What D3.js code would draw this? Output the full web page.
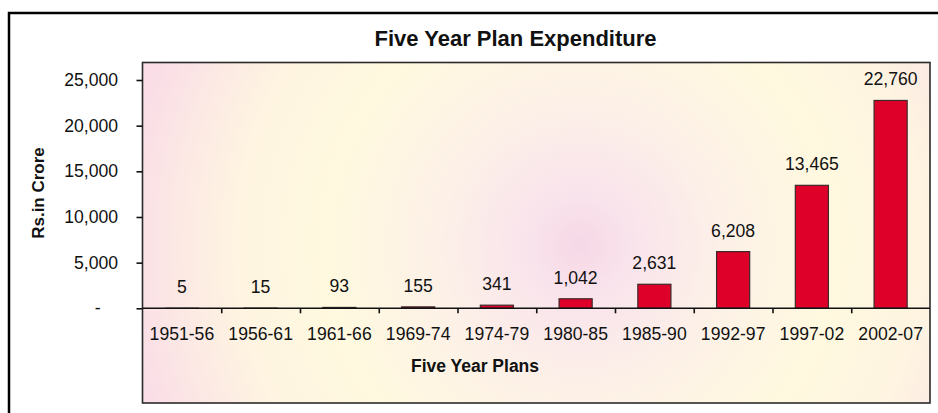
<!DOCTYPE html>
<html>
<head>
<meta charset="utf-8">
<title>Five Year Plan Expenditure</title>
<script src="https://cdn.jsdelivr.net/npm/d3@7"></script>
<style>
  html, body { margin: 0; padding: 0; background: #fff; }
  svg { display: block; font-family: "Liberation Sans", Arial, sans-serif; }
</style>
</head>
<body>
<svg id="chart" width="938" height="413"></svg>
<script>
// data
const plans = ['1951-56','1956-61','1961-66','1969-74','1974-79','1980-85','1985-90','1992-97','1997-02','2002-07'];
const expenditure = [5, 15, 93, 155, 341, 1042, 2631, 6208, 13465, 22760];
const yTicks = [0, 5000, 10000, 15000, 20000, 25000];

const svg = d3.select('#chart');

const plot = {left: 142.5, right: 930, top: 62.5, bottom: 403};
const axisY0 = 308.3, axisY25k = 80;
const fs = '17.6px';

// background gradient for plot area - pink centre, cream ring, pink edges
const defs = svg.append('defs');
const grad = defs.append('radialGradient').attr('id','plotBg')
  .attr('gradientUnits','userSpaceOnUse')
  .attr('cx', 580).attr('cy', 245).attr('r', 460);
[[0,'#f6d8e6'],[0.12,'#f9e4ec'],[0.32,'#fdf1e7'],[0.55,'#fff9df'],[0.75,'#fef4e1'],[1,'#fadde7']]
  .forEach(s => grad.append('stop').attr('offset', s[0]).attr('stop-color', s[1]));

// outer chart frame
svg.append('rect').attr('x', 9).attr('y', 13).attr('width', 940).attr('height', 420)
  .attr('fill','#fff').attr('stroke','#000').attr('stroke-width', 2.5);

// plot area
svg.append('rect').attr('x', plot.left).attr('y', plot.top)
  .attr('width', plot.right - plot.left).attr('height', plot.bottom - plot.top)
  .attr('fill','url(#plotBg)').attr('stroke','#2a2a2a').attr('stroke-width', 1.6);

// scales
const x = d3.scaleBand().domain(plans).range([plot.left, plot.right]).padding(0);
const y = d3.scaleLinear().domain([0, 25000]).range([axisY0, axisY25k]);
const step = x.step();
const barW = step / 2.38; // excel-ish gap width

// bars
svg.append('g').selectAll('rect').data(expenditure).join('rect')
  .attr('x', (d,i) => x(plans[i]) + (step - barW) / 2)
  .attr('y', d => y(d))
  .attr('width', barW)
  .attr('height', d => y(0) - y(d))
  .attr('fill', '#df0029')
  .attr('stroke', '#3a2a2a')
  .attr('stroke-width', 1.2);

// value labels
svg.append('g').selectAll('text').data(expenditure).join('text')
  .attr('x', (d,i) => x(plans[i]) + step / 2)
  .attr('y', d => y(d) - 15)
  .attr('text-anchor','middle')
  .style('font-size', fs).style('fill','#111')
  .text(d => d3.format(',')(d));

// y axis (left border of plot doubles as the axis line)
const yAxis = svg.append('g').attr('transform', `translate(${plot.left},0)`)
  .call(d3.axisLeft(y).tickValues(yTicks).tickSize(6).tickPadding(18.5)
    .tickFormat(d => d === 0 ? '-' : d3.format(',')(d)));
yAxis.select('.domain').remove();
yAxis.selectAll('line').attr('stroke','#111').attr('stroke-width', 1.6);
yAxis.selectAll('text').style('font-size', fs).style('fill','#111').attr('font-family', null);
yAxis.selectAll('.tick').filter(d => d === 0).select('text').attr('x', -42);

// x axis: ticks sit between categories
const xEdge = d3.scaleLinear().domain([0, plans.length]).range([plot.left, plot.right]);
const xTicks = svg.append('g').attr('transform', `translate(0,${axisY0})`)
  .call(d3.axisBottom(xEdge).tickValues(d3.range(1, plans.length)).tickSize(5).tickFormat(''));
xTicks.select('.domain').remove();
xTicks.selectAll('line').attr('stroke','#111').attr('stroke-width', 1.6);

svg.append('line').attr('x1', plot.left).attr('x2', plot.right)
  .attr('y1', axisY0).attr('y2', axisY0)
  .attr('stroke','#111').attr('stroke-width', 1.6);

const xAxis = svg.append('g').attr('transform', `translate(0,${axisY0})`)
  .call(d3.axisBottom(x).tickSize(0));
xAxis.select('.domain').remove();
xAxis.selectAll('text').attr('y', 32).attr('dy', 0)
  .style('font-size', fs).style('fill','#111').attr('font-family', null);

// titles
svg.append('text').attr('x', 515.5).attr('y', 46).attr('text-anchor','middle')
  .style('font-size','22px').style('font-weight','bold').style('fill','#111')
  .text('Five Year Plan Expenditure');

svg.append('text').attr('x', 475).attr('y', 371.5).attr('text-anchor','middle')
  .style('font-size','17.5px').style('font-weight','bold').style('fill','#111')
  .text('Five Year Plans');

svg.append('text').attr('transform', 'translate(44,193) rotate(-90)').attr('text-anchor','middle')
  .style('font-size','17px').style('font-weight','bold').style('fill','#111')
  .text('Rs.in Crore');
</script>
</body>
</html>
